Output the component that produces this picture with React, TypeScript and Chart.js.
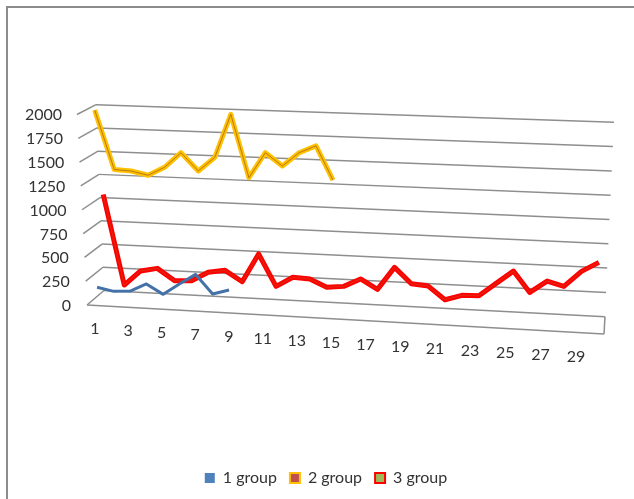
import { useEffect, useRef } from "react";
import { Chart, CategoryScale, LinearScale, LineController, LineElement, PointElement, Legend } from "chart.js";

// Daily readings per group; categories run from 1 to 30.
const categories = Array.from({ length: 30 }, (_, i) => String(i + 1));
const group1 = [176, 143, 156, 240, 141, 258, 368, 173, 225];
const group2 = [2000, 1377, 1368, 1331, 1422, 1583, 1398, 1549, 2006, 1350, 1618, 1486, 1632, 1710, 1362];
const group3 = [
  1078, 122, 281, 318, 196, 205, 303, 333, 222, 523, 192, 296, 287, 209, 228,
  314, 215, 452, 291, 276, 144, 198, 203, 339, 474, 264, 389, 343, 505, 605,
];
const valueTicks = { min: 0, max: 2000, step: 250 };

const FONT = "Lato";
const TEXT = "#333333";
const GRID = "#8e8e8e";

type P = [number, number];
const lerp = (a: number, b: number, t: number) => a + (b - a) * t;

// Corners of the box that forms the pseudo-3D plot.
const frontLeft = (v: number): P => [lerp(87, 77, v), lerp(305, 114.5, v)];
const backLeft = (v: number): P => [lerp(104, 96, v), lerp(290.5, 104.7, v)];
const backRight = (v: number): P => [lerp(605, 614, v), lerp(316.7, 122.3, v)];
const frontFloorRight: P = [604, 334];

// Each ribbon lies on its own plane inside the box.
const planes = [
  { depth: 0.1, left: 89.6, width: 493.7 },
  { depth: 0.48, left: 95.2, width: 492.4 },
  { depth: 0.68, left: 99.5, width: 505.2 },
];

function projectSeries(plane: (typeof planes)[number], u: number, v: number): P {
  const w = plane.depth;
  const bottom = lerp(lerp(305, 290.5, w), lerp(334, 316.7, w), u);
  const top = lerp(lerp(114.5, 104.7, w), lerp(133, 122.3, w), u);
  const left = plane.left - 9 * v;
  const width = plane.width + 18 * v;
  return [left + u * width, lerp(bottom, top, v)];
}

// Value axis whose grid wraps round the side and back walls of the box.
class WallValueScale extends LinearScale {
  static id = "wallValue";
  static defaults = LinearScale.defaults;

  _computeLabelArea() {
    return undefined;
  }

  _computeGridLineItems(area: any) {
    const base = (super._computeGridLineItems as any)(area)[0];
    const seg = (a: P, b: P) => ({ ...base, x1: a[0], y1: a[1], x2: b[0], y2: b[1] });
    const items: any[] = [];
    for (const tick of (this as any).ticks) {
      const v = (tick.value - valueTicks.min) / (valueTicks.max - valueTicks.min);
      items.push(seg(frontLeft(v), backLeft(v)), seg(backLeft(v), backRight(v)));
    }
    items.push(seg(frontLeft(0), frontFloorRight), seg(frontFloorRight, backRight(0)));
    return items;
  }

  _computeLabelItems(area: any) {
    return (super._computeLabelItems as any)(area).map((item: any, i: number) => {
      const value = (this as any).ticks[i].value;
      const v = (value - valueTicks.min) / (valueTicks.max - valueTicks.min);
      return {
        ...item,
        textOffset: 0,
        options: {
          ...item.options,
          textAlign: "right",
          textBaseline: "middle",
          translation: [lerp(71, 62, v), lerp(306, 115, v)],
        },
      };
    });
  }
}

// Category axis whose labels follow the front edge of the floor.
class FloorCategoryScale extends CategoryScale {
  static id = "floorCategory";
  static defaults = CategoryScale.defaults;

  _computeLabelArea() {
    return undefined;
  }

  _computeLabelItems(area: any) {
    const items = (super._computeLabelItems as any)(area);
    return items
      .map((item: any, i: number) => ({
        ...item,
        textOffset: 0,
        options: {
          ...item.options,
          textAlign: "center",
          textBaseline: "middle",
          translation: [95 + 16.55 * i + 0.0225 * i * i, 329 + i],
        },
      }))
      .filter((item: any) => item.label !== "");
  }
}

// Moves every point from the flat scale position onto its series plane.
const planeProjection = {
  id: "planeProjection",
  afterDatasetsUpdate(chart: any) {
    const { left, top, width, height } = chart.chartArea;
    chart.data.datasets.forEach((_: any, di: number) => {
      for (const el of chart.getDatasetMeta(di).data) {
        const u = (el.x - left) / width;
        const v = (top + height - el.y) / height;
        const [x, y] = projectSeries(planes[di], u, v);
        el.x = x;
        el.y = y;
      }
    });
  },
};

// Thin inner stroke of the outlined ribbons.
const ribbonCore = {
  id: "ribbonCore",
  afterDatasetDraw(chart: any, args: any) {
    const ds = chart.data.datasets[args.index];
    if (!ds.coreColor) return;
    const pts = args.meta.data;
    const ctx = chart.ctx;
    ctx.save();
    ctx.strokeStyle = ds.coreColor;
    ctx.lineWidth = 0.7;
    ctx.lineJoin = "round";
    ctx.beginPath();
    pts.forEach((p: any, i: number) => (i ? ctx.lineTo(p.x, p.y) : ctx.moveTo(p.x, p.y)));
    ctx.stroke();
    ctx.restore();
  },
};

Chart.register(WallValueScale, FloorCategoryScale, LineController, LineElement, PointElement, Legend);

export default function App() {
  const ref = useRef<HTMLCanvasElement>(null);

  useEffect(() => {
    const chart = new Chart(ref.current!, {
      type: "line",
      data: {
        labels: categories,
        datasets: [
          {
            label: "1 group",
            data: group1,
            borderColor: "#4472a8",
            backgroundColor: "#4F81BD",
            borderWidth: 3,
            legendBorder: "#4F81BD",
            legendLine: 0,
          },
          {
            label: "2 group",
            data: group2,
            borderColor: "#FFC000",
            backgroundColor: "#C0504D",
            borderWidth: 5,
            coreColor: "#9a5a1e",
            legendBorder: "#FFC000",
            legendLine: 2,
          },
          {
            label: "3 group",
            data: group3,
            borderColor: "#FF0000",
            backgroundColor: "#9BBB59",
            borderWidth: 5,
            coreColor: "#c8401a",
            legendBorder: "#FF0000",
            legendLine: 2,
          },
        ].map((d) => ({ ...d, pointRadius: 0, tension: 0, clip: false, borderJoinStyle: "round", borderCapStyle: "butt" })) as any,
      },
      options: {
        animation: false,
        responsive: false,
        layout: { padding: { left: 38, right: 20, top: 100, bottom: 3 } },
        scales: {
          x: {
            type: "floorCategory" as any,
            offset: true,
            grid: { display: false },
            border: { display: false },
            ticks: {
              autoSkip: false,
              maxRotation: 0,
              color: TEXT,
              font: { family: FONT, size: 16 },
              callback: (_: any, i: number) => (i % 2 === 0 ? categories[i] : ""),
            },
          },
          y: {
            type: "wallValue" as any,
            min: valueTicks.min,
            max: valueTicks.max,
            grid: { color: GRID, lineWidth: 1.5, drawTicks: false },
            border: { display: false },
            ticks: {
              stepSize: valueTicks.step,
              autoSkip: false,
              color: TEXT,
              font: { family: FONT, size: 16 },
              callback: (value: any) => String(value),
            },
          },
        },
        plugins: {
          legend: {
            position: "bottom",
            labels: {
              boxWidth: 10,
              boxHeight: 10,
              padding: 13,
              color: TEXT,
              font: { family: FONT, size: 16 },
              generateLabels: (c: any) =>
                c.data.datasets.map((d: any, i: number) => ({
                  text: d.label,
                  fillStyle: d.backgroundColor,
                  strokeStyle: d.legendBorder,
                  lineWidth: d.legendLine,
                  fontColor: TEXT,
                  datasetIndex: i,
                })),
            },
          },
          tooltip: { enabled: false },
        },
      },
      plugins: [planeProjection, ribbonCore],
    } as any);
    return () => chart.destroy();
  }, []);

  return (
    <div style={{ position: "fixed", left: 0, top: 0, width: 634, height: 499, background: "#fff", overflow: "hidden" }}>
      <canvas ref={ref} width={634} height={499} style={{ display: "block" }} />
      <div
        style={{
          position: "absolute",
          left: 6,
          top: 6,
          width: 640,
          height: 510,
          borderLeft: "2px solid #8c8c8c",
          borderTop: "2px solid #8c8c8c",
        }}
      />
    </div>
  );
}
